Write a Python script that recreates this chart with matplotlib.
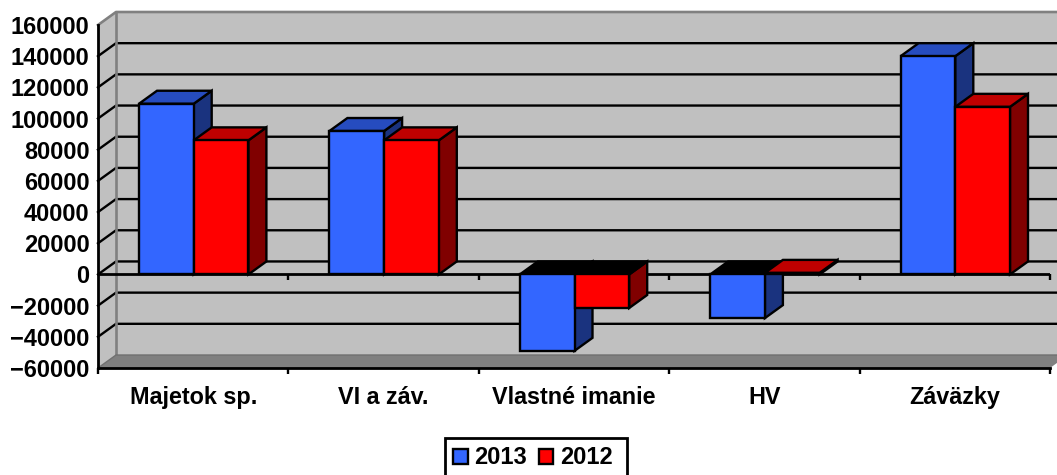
import numpy as np
import matplotlib.pyplot as plt
from matplotlib.patches import Polygon, Patch, Rectangle

plt.rcParams['font.family'] = ['Liberation Sans', 'DejaVu Sans']
plt.rcParams['font.weight'] = 'bold'

categories = ['Majetok sp.', 'VI a záv.', 'Vlastné imanie', 'HV', 'Záväzky']
values_2013 = [109500, 92000, -49000, -28000, 140000]
values_2012 = [86000, 86000, -21500, 1000, 107500]
series_names = ['2013', '2012']
y_ticks = [-60000, -40000, -20000, 0, 20000, 40000, 60000, 80000, 100000, 120000, 140000, 160000]

W, H = 1057, 475
left, right, top, bottom = 98, 1050, 25, 368  # front plane in pixels

fig = plt.figure(figsize=(W/100, H/100), dpi=100)
ax = fig.add_axes([left/W, (H-bottom)/H, (right-left)/W, (bottom-top)/H])
ax.set_xlim(0, 5)
ax.set_ylim(-60000, 160000)
ax.patch.set_alpha(0)

# depth of the fake 3d box, in data units
dx = 18 / ((right-left)/5)
dy = 13 / ((bottom-top)/220000)
lw = 1.7

# walls and floor
ax.add_patch(Polygon([(dx, -60000+dy), (5+dx, -60000+dy), (5+dx, 160000+dy), (dx, 160000+dy)],
                     fc='#c0c0c0', ec='none', zorder=0.5, clip_on=False))
ax.add_patch(Polygon([(0, -60000), (dx, -60000+dy), (dx, 160000+dy), (0, 160000)],
                     fc='#c0c0c0', ec='none', zorder=0.5, clip_on=False))
ax.add_patch(Polygon([(0, -60000), (5, -60000), (5+dx, -60000+dy), (dx, -60000+dy)],
                     fc='#808080', ec='none', zorder=0.6, clip_on=False))

# gridlines
for v in y_ticks[1:-1]:
    ax.plot([0, dx, 5+dx], [v, v+dy, v+dy], color='black', lw=lw, zorder=1, clip_on=False,
            solid_joinstyle='miter')

# wall edges
ax.plot([0, dx, 5+dx], [160000, 160000+dy, 160000+dy], color='#808080', lw=lw+0.2, zorder=1.2, clip_on=False)
ax.plot([dx, dx], [-60000+dy, 160000+dy], color='#808080', lw=lw+0.2, zorder=1.2, clip_on=False)
ax.plot([0, dx, 5+dx], [-60000, -60000+dy, -60000+dy], color='#707070', lw=1.0, zorder=1.2, clip_on=False)

# zero line with its ticks
ax.axhline(0, color='black', lw=lw+0.3, zorder=1.5)
ax.vlines(np.arange(1, 6), -3800, 0, color='black', lw=lw, zorder=1.5, clip_on=False)


def draw_bar(x, w, v, front, top_c, side, z):
    lo, hi = min(v, 0), max(v, 0)
    # negative bars show a black lid at the zero plane
    lid = top_c if v > 0 else 'black'
    ax.add_patch(Polygon([(x+w, lo), (x+w+dx, lo+dy), (x+w+dx, hi+dy), (x+w, hi)],
                         fc=side, ec='black', lw=lw, zorder=z, clip_on=False))
    ax.add_patch(Polygon([(x, hi), (x+dx, hi+dy), (x+w+dx, hi+dy), (x+w, hi)],
                         fc=lid, ec='black', lw=lw, zorder=z, clip_on=False))
    ax.bar(x, v, width=w, align='edge', color=front, edgecolor='black', lw=lw, zorder=z+0.1, clip_on=False)


bar_w = 54.7 / ((right-left)/5)
offset = 41 / ((right-left)/5)
z = 3
for i in range(len(categories)):
    draw_bar(i+offset, bar_w, values_2013[i], '#3366ff', '#264cbf', '#1a337f', z)
    draw_bar(i+offset+bar_w, bar_w, values_2012[i], '#ff0000', '#bf0000', '#800000', z+0.2)
    z += 1

# axes
for s in ['top', 'right']:
    ax.spines[s].set_visible(False)
for s in ['left', 'bottom']:
    ax.spines[s].set_linewidth(lw+0.3)
ax.set_yticks(y_ticks)
ax.set_xticks(np.arange(0, 6))
ax.set_xticklabels([])
ax.set_xticks(np.arange(len(categories))+0.5, categories, minor=True)
ax.tick_params(axis='y', length=0, pad=6, labelsize=17)
ax.tick_params(axis='x', which='major', length=4.3, width=lw, direction='out')
ax.tick_params(axis='x', which='minor', length=0, pad=13, labelsize=16.8)

# legend, frame runs off the bottom of the picture
fig.add_artist(Rectangle((445/W, -0.02), 182/W, (H-438)/H+0.02, transform=fig.transFigure,
                         fc='white', ec='black', lw=lw+0.3, zorder=1))
handles = [Patch(fc='#3366ff', ec='black', lw=lw), Patch(fc='#ff0000', ec='black', lw=lw)]
leg = fig.legend(handles, series_names, ncol=2, loc='center left',
                 bbox_to_anchor=(453/W, (H-458)/H), borderaxespad=0, fontsize=17,
                 frameon=False, borderpad=0,
                 handlelength=0.62, handleheight=0.62, handletextpad=0.28,
                 columnspacing=0.5)
leg.set_zorder(2)

fig.savefig('out.png', dpi=100)
